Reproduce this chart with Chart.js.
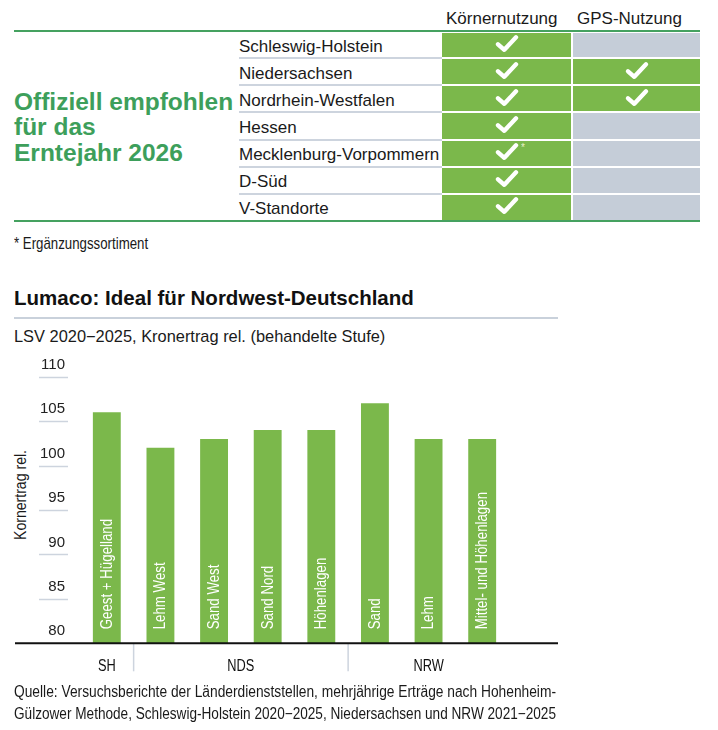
<!DOCTYPE html>
<html lang="de">
<head>
<meta charset="utf-8">
<script src="https://cdn.jsdelivr.net/npm/chart.js@4.4.1/dist/chart.umd.min.js"></script>
<style>
  html, body { margin: 0; padding: 0; background: #fff; }
  body { width: 718px; height: 730px; position: relative; overflow: hidden;
         font-family: "Liberation Sans", Arial, sans-serif; color: #1a1a1a; }
  .abs { position: absolute; white-space: nowrap; line-height: 1; }
  .cond { transform-origin: 0 0; transform: scaleX(0.78); }
  .gline { position: absolute; left: 14px; width: 686px; height: 2px; background: #45a160; }
  .head { font-size: 17px; top: 9.6px; }
  .name { font-size: 17px; left: 239px; }
  .sep { position: absolute; left: 239px; width: 203px; height: 2px; background: #cdd4de; }
  .cell { position: absolute; }
  .cell svg { position: absolute; left: 50%; top: 50%; transform: translate(-50%, -56%); }
  #headline { left: 14px; top: 88.5px; font-size: 24.5px; font-weight: bold; color: #3d9f5b; line-height: 25.5px; }
  #note { left: 14px; top: 235px; font-size: 17px; }
  #title { left: 14px; top: 287.6px; font-size: 20.5px; font-weight: bold; color: #111; }
  #rule { position: absolute; left: 14px; top: 317px; width: 544px; height: 1.5px; background: #c9d1db; }
  #sub { left: 14px; top: 327.8px; font-size: 16.4px; }
  #ytitle { font-size: 16px; left: 21px; top: 495px; transform: translate(-50%, -50%) rotate(-90deg) scaleX(0.88); }
  .src { position: absolute; left: 14px; font-size: 15.8px; line-height: 22px; white-space: nowrap;
         transform-origin: 0 0; }
  #chartBox { position: absolute; left: 0; top: 340px; width: 570px; height: 345px; }
</style>
</head>
<body>

<div class="gline" style="top:30px"></div>
<div class="gline" style="top:220px"></div>
<div class="abs head" style="left:446px">Körnernutzung</div>
<div class="abs head" style="left:577px">GPS-Nutzung</div>
<div class="abs" id="headline">Offiziell empfohlen<br>für das<br>Erntejahr 2026</div>
<div id="table"></div>

<div class="abs cond" id="note">* Ergänzungssortiment</div>
<div class="abs" id="title">Lumaco: Ideal für Nordwest-Deutschland</div>
<div id="rule"></div>
<div class="abs" id="sub">LSV 2020−2025, Kronertrag rel. (behandelte Stufe)</div>
<div class="abs" id="ytitle">Kornertrag rel.</div>

<div id="chartBox"><canvas id="yieldChart" width="570" height="345"></canvas></div>

<span class="src" style="top:680.5px">Quelle: Versuchsberichte der Länderdienststellen, mehrjährige Erträge nach Hohenheim-</span>
<span class="src" style="top:702.5px">Gülzower Methode, Schleswig-Holstein 2020−2025, Niedersachsen und NRW 2021−2025</span>

<script>
// table: federal states and which use is recommended
const states = ["Schleswig-Holstein", "Niedersachsen", "Nordrhein-Westfalen", "Hessen",
                "Mecklenburg-Vorpommern", "D-Süd", "V-Standorte"];
const kornUse = [true, true, true, true, true, true, true];
const gpsUse = [false, true, true, false, false, false, false];
const kornNote = [false, false, false, false, true, false, false];

// bar chart: relative grain yield per site
const sites = ["Geest + Hügelland", "Lehm West", "Sand West", "Sand Nord", "Höhenlagen",
               "Sand", "Lehm", "Mittel- und Höhenlagen"];
const yieldValues = [106, 102, 103, 104, 104, 107, 103, 103];
const regions = ["SH", "NDS", "NRW"];
const regionOfSite = [0, 1, 1, 1, 1, 2, 2, 2];
const yTicks = [80, 85, 90, 95, 100, 105, 110];

const FONT = "'Liberation Sans', Arial, sans-serif";
const GREEN = "#7bb84b";
const GREY = "#c5cdd8";

/* --------------------------------------------- table ------------------------------------------------------- */

function checkSvg () {
    return '<svg width="25" height="20" viewBox="0 0 25 20"><path d="M3.5 10.5 L9.8 16 L21.5 3.5" ' +
           'fill="none" stroke="#fff" stroke-width="4.4" stroke-linecap="round" stroke-linejoin="round"/></svg>'; }

function buildTable () {
    const box = document.getElementById("table");
    const top = 31, rowH = 190 / states.length;
    let html = "";
    states.forEach((name, i) => {
        const y0 = top + i * rowH, y1 = top + (i + 1) * rowH;
        html += '<div class="abs name" style="top:' + (y0 + 6.6) + 'px">' + name + '</div>';
        if (i > 0) { html += '<div class="sep" style="top:' + (y0 - 1) + 'px"></div>'; }
        const cy = y0 + (i === 0 ? 1.5 : 1), ch = y1 - cy - 1;
        html += '<div class="cell" style="left:442px;width:129px;top:' + cy + 'px;height:' + ch + 'px;background:' +
                (kornUse[i] ? GREEN : GREY) + '">' + (kornUse[i] ? checkSvg() : "") +
                (kornNote[i] ? '<span style="position:absolute;left:79px;top:1px;font-size:10px;color:#e9f2c8">*</span>' : "") +
                '</div>';
        html += '<div class="cell" style="left:573px;width:127px;top:' + cy + 'px;height:' + ch + 'px;background:' +
                (gpsUse[i] ? GREEN : GREY) + '">' + (gpsUse[i] ? checkSvg() : "") + '</div>'; });
    box.innerHTML = html; }

buildTable();

// squeeze each source line so it runs the full 542px like the justified original
document.querySelectorAll(".src").forEach((el) => {
    const w = el.getBoundingClientRect().width;
    el.style.transform = "scaleX(" + (542 / w) + ")"; });

/* --------------------------------------------- chart ------------------------------------------------------- */

// short tick lines, long base line, region separators and labels, labels inside bars
const decorPlugin = {
    id: "decor",
    afterDraw (chart) {
        const ctx = chart.ctx, x = chart.scales.x, y = chart.scales.y;
        const base = y.getPixelForValue(yTicks[0]);
        ctx.save();
        // labels inside the bars
        ctx.fillStyle = "#fff";
        ctx.font = "16px " + FONT;
        ctx.textAlign = "left";
        ctx.textBaseline = "middle";
        sites.forEach((label, i) => {
            ctx.save();
            ctx.translate(x.getPixelForValue(i) + 0.5, base - 14);
            ctx.rotate(-Math.PI / 2);
            ctx.scale(0.83, 1);
            ctx.fillText(label, 0, 0);
            ctx.restore(); });
        // tick lines
        ctx.strokeStyle = "#cdd4de";
        ctx.lineWidth = 1.5;
        y.ticks.forEach((t) => {
            if (t.value === yTicks[0]) { return; }
            const py = Math.round(y.getPixelForValue(t.value)) + 0.5;
            ctx.beginPath(); ctx.moveTo(39, py); ctx.lineTo(68, py); ctx.stroke(); });
        // region separators
        for (let i = 1; i < regionOfSite.length; i++) {
            if (regionOfSite[i] !== regionOfSite[i - 1]) {
                const px = (x.getPixelForValue(i - 1) + x.getPixelForValue(i)) / 2;
                ctx.beginPath(); ctx.moveTo(px, base); ctx.lineTo(px, base + 28); ctx.stroke(); } }
        // base line
        ctx.strokeStyle = "#111";
        ctx.lineWidth = 2;
        ctx.beginPath(); ctx.moveTo(15, base); ctx.lineTo(558, base); ctx.stroke();
        // region labels
        ctx.fillStyle = "#111";
        ctx.font = "16px " + FONT;
        ctx.textAlign = "center";
        ctx.textBaseline = "alphabetic";
        regions.forEach((r, k) => {
            const idx = [];
            regionOfSite.forEach((g, i) => { if (g === k) { idx.push(i); } });
            const px = (x.getPixelForValue(idx[0]) + x.getPixelForValue(idx[idx.length - 1])) / 2;
            ctx.save();
            ctx.translate(px, base + 27.5);
            ctx.scale(0.8, 1);
            ctx.fillText(r, 0, 0);
            ctx.restore(); });
        ctx.restore(); }
};

const yieldChart = new Chart("yieldChart", {
    type: "bar",
    data: {
        labels: sites,
        datasets: [{
            data: yieldValues,
            backgroundColor: GREEN,
            borderWidth: 0,
            barPercentage: 0.52,
            categoryPercentage: 1
        }]
    },
    options: {
        responsive: false,
        animation: false,
        devicePixelRatio: 1,
        layout: { padding: { left: 0, right: 61, top: 36.7, bottom: 41.7 } },
        plugins: { legend: { display: false }, title: { display: false }, tooltip: { enabled: false } },
        scales: {
            x: { display: false },
            y: {
                min: 80, max: 110,
                afterFit: (scale) => { scale.width = 80; },
                afterBuildTicks: (scale) => { scale.ticks = yTicks.map((v) => ({ value: v })); },
                grid: { display: false, drawTicks: false },
                border: { display: false },
                ticks: { padding: 15, labelOffset: -12, color: "#222", font: { family: FONT, size: 15 } }
            }
        }
    },
    plugins: [decorPlugin]
});
</script>
</body>
</html>
